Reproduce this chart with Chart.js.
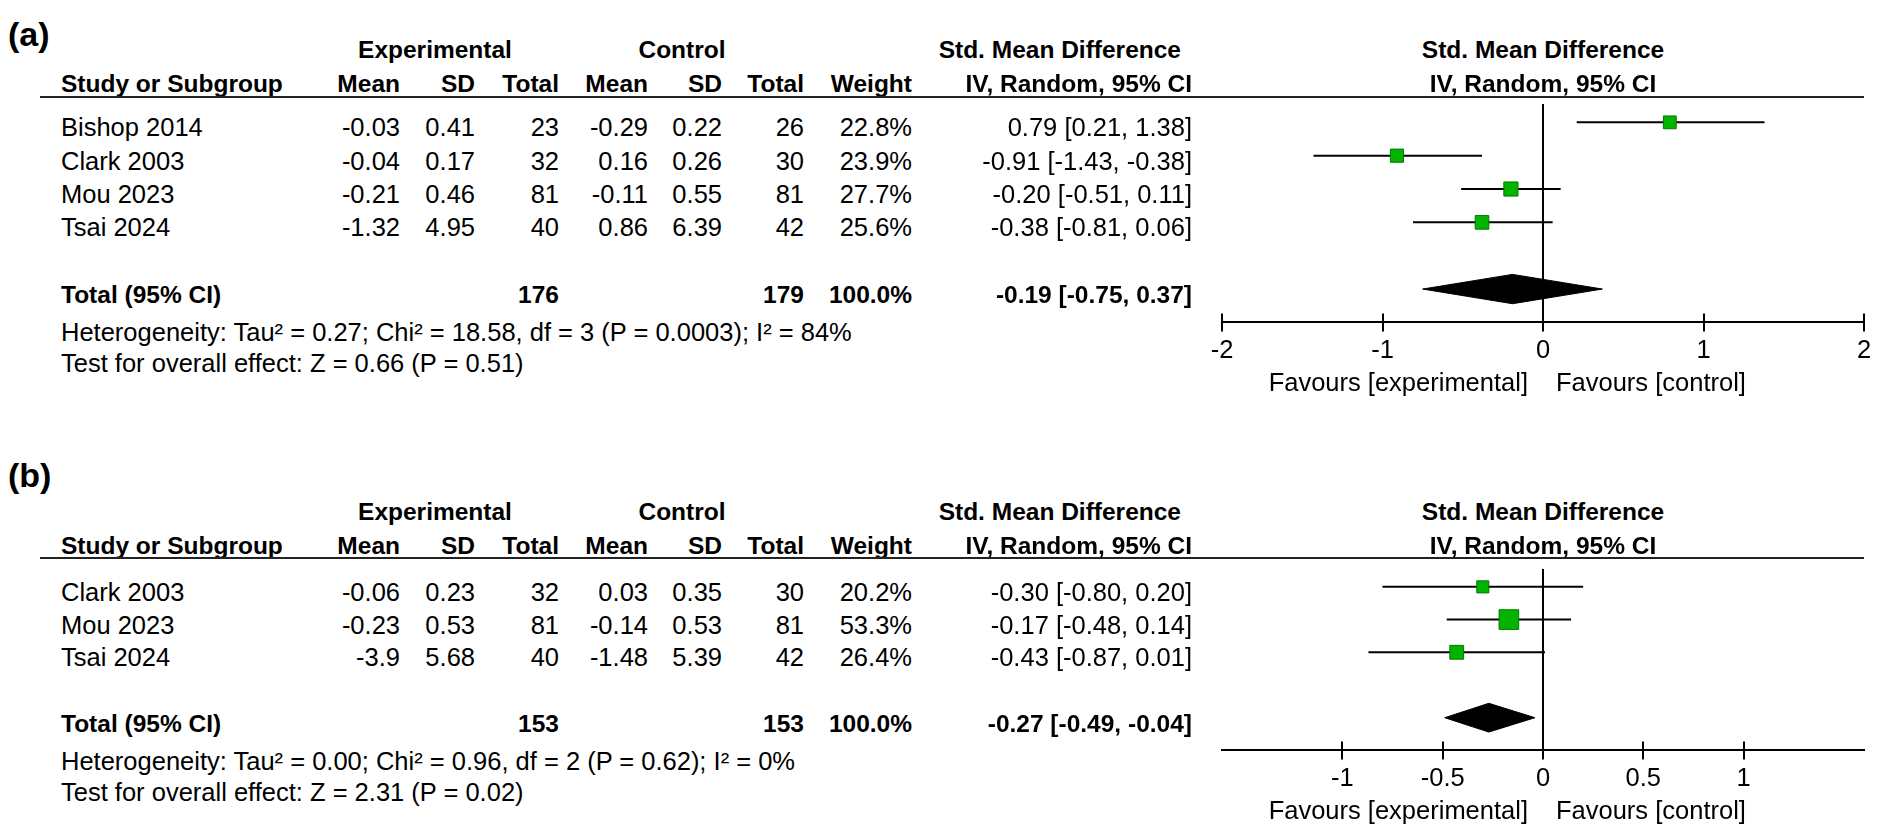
<!DOCTYPE html>
<html>
<head>
<meta charset="utf-8">
<script src="https://cdn.jsdelivr.net/npm/chart.js@4.4.1/dist/chart.umd.min.js"></script>
<style>
  html, body { margin: 0; padding: 0; background: #fff; }
  body { width: 1901px; height: 828px; position: relative; overflow: hidden;
         font-family: "Liberation Sans", Arial, sans-serif; color: #000; }
  .t { position: absolute; white-space: nowrap; line-height: 1; font-size: 25.5px; }
  .b { font-weight: bold; font-size: 24.5px; }
  .big { font-size: 34px; font-weight: bold; }
  .rule { position: absolute; height: 2px; background: #222; }
  canvas { position: absolute; }
</style>
</head>
<body>
<script>
// ---- panel (a) ----
const studiesA = ["Bishop 2014", "Clark 2003", "Mou 2023", "Tsai 2024"];
const expMeanA = [-0.03, -0.04, -0.21, -1.32];
const expSdA = [0.41, 0.17, 0.46, 4.95];
const expTotalA = [23, 32, 81, 40];
const ctlMeanA = [-0.29, 0.16, -0.11, 0.86];
const ctlSdA = [0.22, 0.26, 0.55, 6.39];
const ctlTotalA = [26, 30, 81, 42];
const weightA = [22.8, 23.9, 27.7, 25.6];
const smdA = [0.79, -0.91, -0.20, -0.38];
const lowerA = [0.21, -1.43, -0.51, -0.81];
const upperA = [1.38, -0.38, 0.11, 0.06];
const pooledA = [-0.19, -0.75, 0.37]; // estimate, lower, upper
const sumTotalA = [176, 179];
const hetA = "Heterogeneity: Tau² = 0.27; Chi² = 18.58, df = 3 (P = 0.0003); I² = 84%";
const testA = "Test for overall effect: Z = 0.66 (P = 0.51)";
const ticksA = [-2, -1, 0, 1, 2];
const rangeA = [-2, 2];

// ---- panel (b) ----
const studiesB = ["Clark 2003", "Mou 2023", "Tsai 2024"];
const expMeanB = [-0.06, -0.23, -3.9];
const expSdB = [0.23, 0.53, 5.68];
const expTotalB = [32, 81, 40];
const ctlMeanB = [0.03, -0.14, -1.48];
const ctlSdB = [0.35, 0.53, 5.39];
const ctlTotalB = [30, 81, 42];
const weightB = [20.2, 53.3, 26.4];
const smdB = [-0.30, -0.17, -0.43];
const lowerB = [-0.80, -0.48, -0.87];
const upperB = [0.20, 0.14, 0.01];
const pooledB = [-0.27, -0.49, -0.04];
const sumTotalB = [153, 153];
const hetB = "Heterogeneity: Tau² = 0.00; Chi² = 0.96, df = 2 (P = 0.62); I² = 0%";
const testB = "Test for overall effect: Z = 2.31 (P = 0.02)";
const ticksB = [-1, -0.5, 0, 0.5, 1];
const rangeB = [-1.6, 1.6];

const panels = [
  { label: "(a)", labelY: 34, underlineY: 97, axisY: 323, head: [-47, -13],
    studies: studiesA, expMean: expMeanA, expSd: expSdA, expTotal: expTotalA,
    ctlMean: ctlMeanA, ctlSd: ctlSdA, ctlTotal: ctlTotalA, weight: weightA,
    smd: smdA, lower: lowerA, upper: upperA, pooled: pooledA, sumTotal: sumTotalA,
    het: hetA, test: testA, ticks: ticksA, range: rangeA },
  { label: "(b)", labelY: 475, underlineY: 558, axisY: 751, head: [-46, -12],
    studies: studiesB, expMean: expMeanB, expSd: expSdB, expTotal: expTotalB,
    ctlMean: ctlMeanB, ctlSd: ctlSdB, ctlTotal: ctlTotalB, weight: weightB,
    smd: smdB, lower: lowerB, upper: upperB, pooled: pooledB, sumTotal: sumTotalB,
    het: hetB, test: testB, ticks: ticksB, range: rangeB }
];

const FONT = '"Liberation Sans", Arial, sans-serif';
const PLOT_LEFT = 1222, PLOT_RIGHT = 1864;
const SIDE_PAD = 40, TOP_PAD = 4;
const Y_TOP = -0.55;       // row value at the header rule
const DIAMOND_H = 0.44;    // half height of the pooled diamond, in rows
const TEXT_DROP = 6;       // table text sits a little below the plot marks

// x of the table columns (study is a left edge, the rest are right edges)
const COL = { study: 61, expMean: 400, expSd: 475, expTotal: 559, ctlMean: 648,
              ctlSd: 722, ctlTotal: 804, weight: 912, ci: 1192 };

Chart.defaults.font.family = FONT;

// tick marks that cross the axis line
const crossTicks = {
  id: "crossTicks",
  afterDraw(chart) {
    const { ctx, chartArea, scales } = chart;
    ctx.save();
    ctx.strokeStyle = "#000";
    ctx.lineWidth = 2;
    scales.x.ticks.forEach((t) => {
      const px = Math.round(scales.x.getPixelForValue(t.value));
      ctx.beginPath();
      ctx.moveTo(px, chartArea.bottom - 9);
      ctx.lineTo(px, chartArea.bottom + 9);
      ctx.stroke();
    });
    ctx.restore();
  }
};

function put(text, x, y, align, cls) {
  const d = document.createElement("div");
  d.className = "t " + (cls || "");
  d.textContent = text;
  d.style.left = x + "px";
  d.style.top = y + "px";
  const tx = align === "right" ? "-100%" : align === "center" ? "-50%" : "0";
  d.style.transform = `translate(${tx}, -50%)`;
  document.body.appendChild(d);
}

function ciText(e, l, u) {
  return e.toFixed(2) + " [" + l.toFixed(2) + ", " + u.toFixed(2) + "]";
}

function buildChart(p, height) {
  const n = p.studies.length;
  const canvas = document.createElement("canvas");
  canvas.width = PLOT_RIGHT - PLOT_LEFT + 2 * SIDE_PAD;
  canvas.height = height;
  canvas.style.left = PLOT_LEFT - SIDE_PAD + "px";
  canvas.style.top = p.underlineY - TOP_PAD + "px";
  document.body.appendChild(canvas);

  const datasets = [];
  // line of no effect
  datasets.push({
    type: "line", order: 3,
    data: [{ x: 0, y: Y_TOP }, { x: 0, y: n + 2 }],
    borderColor: "#000", borderWidth: 2, pointRadius: 0, fill: false
  });
  // confidence intervals
  p.studies.forEach((s, i) => {
    datasets.push({
      type: "line", order: 2,
      data: [{ x: p.lower[i], y: i }, { x: p.upper[i], y: i }],
      borderColor: "#000", borderWidth: 2, pointRadius: 0, fill: false
    });
  });
  // study estimates, square size by weight
  datasets.push({
    type: "scatter", order: 0,
    data: p.smd.map((v, i) => ({ x: v, y: i })),
    pointStyle: "rect",
    pointRadius: p.weight.map((w) => 1.9 * Math.sqrt(w)),
    backgroundColor: "#00b400", borderColor: "#007800", borderWidth: 1
  });
  // pooled diamond
  const [est, lo, hi] = p.pooled;
  const yt = n + 1;
  datasets.push({
    type: "line", order: 1,
    data: [{ x: lo, y: yt }, { x: est, y: yt - DIAMOND_H }, { x: hi, y: yt },
           { x: est, y: yt + DIAMOND_H }, { x: lo, y: yt }],
    borderColor: "#000", borderWidth: 1, backgroundColor: "#000",
    fill: "shape", pointRadius: 0, tension: 0
  });

  return new Chart(canvas, {
    type: "scatter",
    data: { datasets },
    options: {
      responsive: false,
      animation: false,
      layout: { padding: { left: SIDE_PAD, right: SIDE_PAD, top: TOP_PAD, bottom: 0 } },
      plugins: { legend: { display: false }, tooltip: { enabled: false } },
      scales: {
        x: {
          type: "linear", min: p.range[0], max: p.range[1],
          afterBuildTicks: (scale) => { scale.ticks = p.ticks.map((v) => ({ value: v })); },
          grid: { display: false, drawTicks: false },
          border: { display: true, color: "#000", width: 2 },
          ticks: { color: "#000", font: { size: 25.5 }, padding: 13,
                   maxRotation: 0, autoSkip: false, callback: (v) => String(v) }
        },
        y: { type: "linear", display: false, reverse: true, min: Y_TOP, max: n + 2 }
      }
    },
    plugins: [crossTicks]
  });
}

function drawPanel(p) {
  // first pass to learn how tall the x axis is
  let chart = buildChart(p, 400);
  const overhead = 400 - chart.chartArea.bottom;
  chart.canvas.remove();
  chart.destroy();
  chart = buildChart(p, TOP_PAD + (p.axisY - p.underlineY) + overhead);

  const top = p.underlineY - TOP_PAD;
  const left = PLOT_LEFT - SIDE_PAD;
  const rowY = (v) => top + chart.scales.y.getPixelForValue(v) + TEXT_DROP;
  const zeroX = left + chart.scales.x.getPixelForValue(0);
  const n = p.studies.length;

  put(p.label, 8, p.labelY, "left", "big");

  // header
  const h1 = p.underlineY + p.head[0], h2 = p.underlineY + p.head[1];
  put("Experimental", 435, h1, "center", "b");
  put("Control", 682, h1, "center", "b");
  put("Std. Mean Difference", 1181, h1, "right", "b");
  put("Std. Mean Difference", zeroX, h1, "center", "b");
  put("Study or Subgroup", COL.study, h2, "left", "b");
  put("Mean", COL.expMean, h2, "right", "b");
  put("SD", COL.expSd, h2, "right", "b");
  put("Total", COL.expTotal, h2, "right", "b");
  put("Mean", COL.ctlMean, h2, "right", "b");
  put("SD", COL.ctlSd, h2, "right", "b");
  put("Total", COL.ctlTotal, h2, "right", "b");
  put("Weight", COL.weight, h2, "right", "b");
  put("IV, Random, 95% CI", COL.ci, h2, "right", "b");
  put("IV, Random, 95% CI", zeroX, h2, "center", "b");

  const rule = document.createElement("div");
  rule.className = "rule";
  rule.style.left = "40px";
  rule.style.width = PLOT_RIGHT - 40 + "px";
  rule.style.top = p.underlineY - 1 + "px";
  document.body.appendChild(rule);

  // study rows
  p.studies.forEach((s, i) => {
    const y = rowY(i);
    put(s, COL.study, y, "left");
    put(String(p.expMean[i]), COL.expMean, y, "right");
    put(String(p.expSd[i]), COL.expSd, y, "right");
    put(String(p.expTotal[i]), COL.expTotal, y, "right");
    put(String(p.ctlMean[i]), COL.ctlMean, y, "right");
    put(String(p.ctlSd[i]), COL.ctlSd, y, "right");
    put(String(p.ctlTotal[i]), COL.ctlTotal, y, "right");
    put(p.weight[i].toFixed(1) + "%", COL.weight, y, "right");
    put(ciText(p.smd[i], p.lower[i], p.upper[i]), COL.ci, y, "right");
  });

  // total row
  const ty = rowY(n + 1);
  put("Total (95% CI)", COL.study, ty, "left", "b");
  put(String(p.sumTotal[0]), COL.expTotal, ty, "right", "b");
  put(String(p.sumTotal[1]), COL.ctlTotal, ty, "right", "b");
  put("100.0%", COL.weight, ty, "right", "b");
  put(ciText(p.pooled[0], p.pooled[1], p.pooled[2]), COL.ci, ty, "right", "b");
  put(p.het, COL.study, ty + 38, "left");
  put(p.test, COL.study, ty + 69, "left");

  // axis captions
  put("Favours [experimental]", zeroX - 15, p.axisY + 60, "right");
  put("Favours [control]", zeroX + 13, p.axisY + 60, "left");
}

panels.forEach(drawPanel);
</script>
</body>
</html>
